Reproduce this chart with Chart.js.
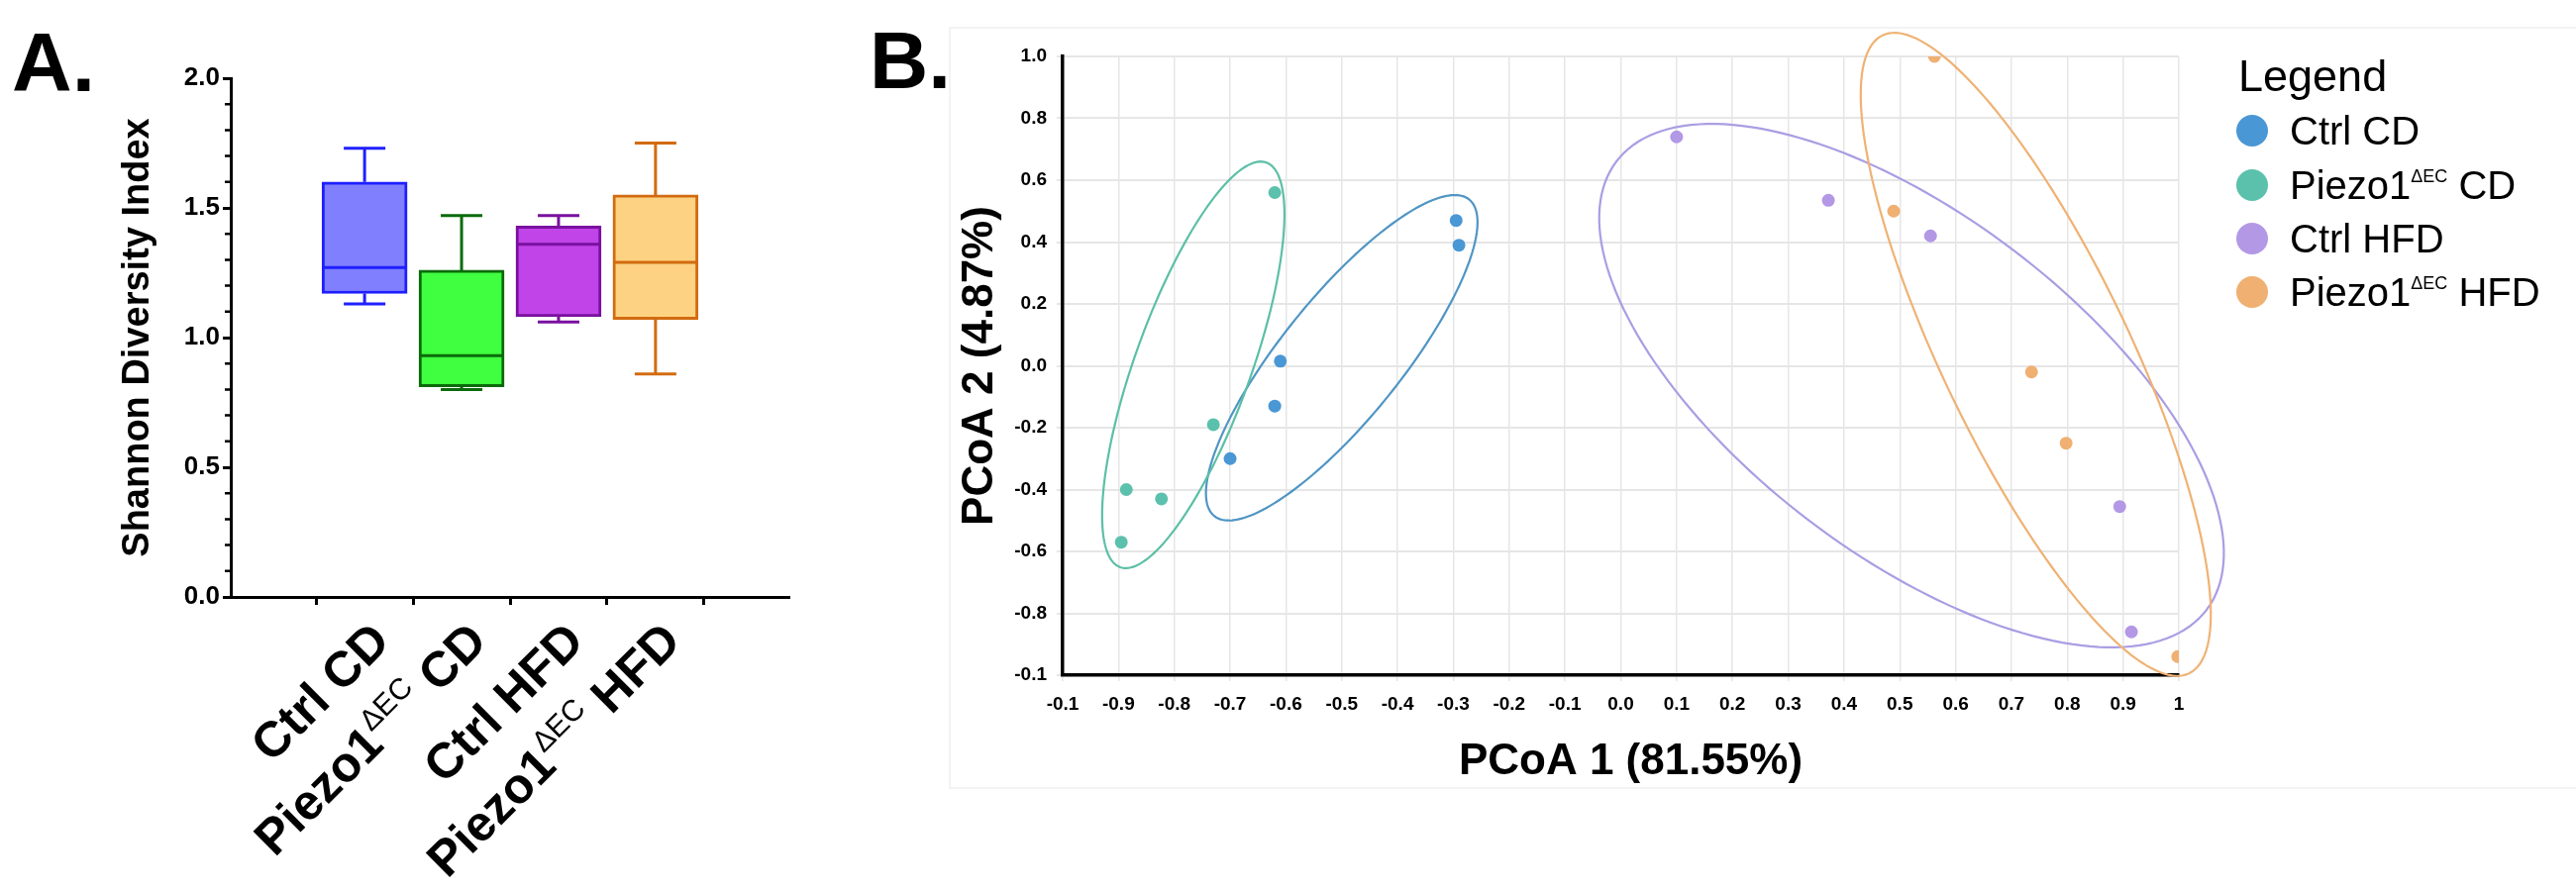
<!DOCTYPE html>
<html>
<head>
<meta charset="utf-8">
<script src="https://cdn.jsdelivr.net/npm/chart.js@4.4.1/dist/chart.umd.min.js"></script>
<style>
  html, body { margin: 0; padding: 0; background: #fff; }
  #wrap { position: relative; width: 2601px; height: 899px; overflow: hidden; }
  canvas { position: absolute; top: 0; }
  #boxA { left: 0; }
  #pcoa { left: 860px; }
</style>
</head>
<body>
<div id="wrap">
  <canvas id="boxA" width="860" height="899"></canvas>
  <canvas id="pcoa" width="1741" height="899"></canvas>
</div>
<script>
// ---- panel A: Shannon diversity boxes ----
const groups = ["Ctrl CD", "Piezo1ΔEC CD", "Ctrl HFD", "Piezo1ΔEC HFD"];
const boxMin = [1.13, 0.80, 1.06, 0.86];
const boxQ1 = [1.17, 0.81, 1.08, 1.07];
const boxMedian = [1.27, 0.93, 1.36, 1.29];
const boxQ3 = [1.60, 1.26, 1.43, 1.55];
const boxMax = [1.73, 1.47, 1.47, 1.75];
const minorTicksA = [0.1, 0.2, 0.3, 0.4, 0.6, 0.7, 0.8, 0.9, 1.1, 1.2, 1.3, 1.4, 1.6, 1.7, 1.8, 1.9];

// ---- panel B: PCoA points ----
const ctrlCdX = [-0.295, -0.29, -0.61, -0.62, -0.70];
const ctrlCdY = [0.47, 0.39, 0.015, -0.13, -0.30];
const piezoCdX = [-0.62, -0.73, -0.886, -0.823, -0.895];
const piezoCdY = [0.56, -0.19, -0.40, -0.43, -0.57];
const ctrlHfdX = [0.10, 0.372, 0.555, 0.894, 0.915];
const ctrlHfdY = [0.74, 0.535, 0.42, -0.455, -0.86];
const piezoHfdX = [0.562, 0.489, 0.736, 0.798, 0.998];
const piezoHfdY = [1.0, 0.50, -0.02, -0.25, -0.94];

// ellipses: centre x, centre y, major semi-axis (dx, dy), minor semi-axis (dx, dy) in data units
const ctrlCdEllipse = [-0.50, 0.026, 0.2284, 0.5115, 0.0839, -0.1224];
const piezoCdEllipse = [-0.766, 0.003, 0.131, 0.654, 0.0976, -0.0638];
const ctrlHfdEllipse = [0.521, -0.064, 0.5287, -0.7247, 0.1835, 0.4365];
const piezoHfdEllipse = [0.7436, 0.0369, 0.2747, -1.031, 0.1514, 0.1317];

const xTickLabels = ["-0.1", "-0.9", "-0.8", "-0.7", "-0.6", "-0.5", "-0.4", "-0.3", "-0.2", "-0.1",
  "0.0", "0.1", "0.2", "0.3", "0.4", "0.5", "0.6", "0.7", "0.8", "0.9", "1"];
const yTickLabels = ["-0.1", "-0.8", "-0.6", "-0.4", "-0.2", "0.0", "0.2", "0.4", "0.6", "0.8", "1.0"];

const FONT = '"Liberation Sans", Arial, Helvetica, sans-serif';
const boxFill = ["#8080ff", "#40ff40", "#c044e8", "#fdd383"];
const boxLine = ["#1f1fff", "#0b6b0b", "#7a10a0", "#d26b10"];
const groupColors = ["#4a97d5", "#5bc1ad", "#b398e6", "#efb072"];
const ellipseColors = ["#4f95c4", "#5cbfa6", "#ab9de3", "#efb274"];

// draws "Piezo1" + superscript "ΔEC" + rest
function richParts(label, bold, sup, rise) {
  const bits = label.split("ΔEC");
  if (bits.length === 1) return [[label, bold, 0]];
  return [[bits[0], bold, 0], ["ΔEC", sup, rise], [bits[1], bold, 0]];
}
function drawRich(ctx, parts, x, y, align) {
  let w = 0;
  parts.forEach(p => { ctx.font = p[1]; w += ctx.measureText(p[0]).width; });
  let cx = align === "right" ? x - w : x;
  ctx.textAlign = "left";
  parts.forEach(p => {
    ctx.font = p[1];
    ctx.fillText(p[0], cx, y - p[2]);
    cx += ctx.measureText(p[0]).width;
  });
}

const boxPlugin = {
  id: "boxExtras",
  afterDatasetsDraw(chart) {
    const { ctx, scales: { x, y } } = chart;
    ctx.save();
    ctx.lineCap = "butt";
    groups.forEach((g, i) => {
      const cx = x.getPixelForValue(i);
      ctx.strokeStyle = boxLine[i];
      ctx.lineWidth = 3;
      ctx.beginPath();
      ctx.moveTo(cx, y.getPixelForValue(boxQ3[i]));
      ctx.lineTo(cx, y.getPixelForValue(boxMax[i]));
      ctx.moveTo(cx - 21, y.getPixelForValue(boxMax[i]));
      ctx.lineTo(cx + 21, y.getPixelForValue(boxMax[i]));
      ctx.moveTo(cx, y.getPixelForValue(boxQ1[i]));
      ctx.lineTo(cx, y.getPixelForValue(boxMin[i]));
      ctx.moveTo(cx - 21, y.getPixelForValue(boxMin[i]));
      ctx.lineTo(cx + 21, y.getPixelForValue(boxMin[i]));
      ctx.moveTo(cx - 42, y.getPixelForValue(boxMedian[i]));
      ctx.lineTo(cx + 42, y.getPixelForValue(boxMedian[i]));
      ctx.stroke();
    });
    // minor ticks on y axis
    ctx.strokeStyle = "#000";
    ctx.lineWidth = 2.5;
    ctx.beginPath();
    minorTicksA.forEach(v => {
      const py = y.getPixelForValue(v);
      ctx.moveTo(x.left - 6, py);
      ctx.lineTo(x.left, py);
    });
    ctx.stroke();
    ctx.restore();
  },
  afterDraw(chart) {
    const { ctx, scales: { x, y } } = chart;
    ctx.save();
    ctx.fillStyle = "#000";
    ctx.textBaseline = "alphabetic";
    // panel letter
    ctx.font = "bold 84px " + FONT;
    ctx.textAlign = "left";
    ctx.fillText("A.", 12, 92);
    // y title
    ctx.save();
    ctx.translate(150, (y.top + y.bottom) / 2);
    ctx.rotate(-Math.PI / 2);
    ctx.font = "bold 38px " + FONT;
    ctx.textAlign = "center";
    ctx.fillText("Shannon Diversity Index", 0, 0);
    ctx.restore();
    // rotated category labels
    groups.forEach((g, i) => {
      const px = x.getPixelForValue(i);
      ctx.save();
      ctx.translate(px + 28, y.bottom + 47);
      ctx.rotate(-Math.PI / 4);
      drawRich(ctx, richParts(g, "bold 50px " + FONT, "30px " + FONT, 21), 0, 0, "right");
      ctx.restore();
    });
    ctx.restore();
  }
};

new Chart(document.getElementById("boxA"), {
  type: "bar",
  data: {
    datasets: [{
      data: groups.map((g, i) => ({ x: i, y: [boxQ1[i], boxQ3[i]] })),
      backgroundColor: boxFill,
      borderColor: boxLine,
      borderWidth: 3,
      borderSkipped: false,
      barThickness: 86
    }]
  },
  options: {
    responsive: false,
    animation: false,
    devicePixelRatio: 1,
    layout: { padding: { left: 0, top: 79, right: 63, bottom: 0 } },
    plugins: { legend: { display: false }, tooltip: { enabled: false } },
    scales: {
      x: {
        type: "linear",
        min: -0.66,
        max: 3.66,
        afterBuildTicks: s => { s.ticks = groups.map((g, i) => ({ value: i })); },
        afterFit: s => { s.height = 296; },
        grid: { display: true, drawOnChartArea: false, drawTicks: true, tickLength: 8, tickWidth: 3, tickColor: "#000" },
        border: { color: "#000", width: 3 },
        ticks: { display: false }
      },
      y: {
        min: 0,
        max: 2,
        afterFit: s => { s.width = 233; },
        ticks: {
          stepSize: 0.5,
          padding: 3,
          color: "#000",
          font: { family: FONT, size: 26, weight: "bold" },
          callback: v => v.toFixed(1)
        },
        grid: { display: true, drawOnChartArea: false, drawTicks: true, tickLength: 8, tickWidth: 3, tickColor: "#000" },
        border: { color: "#000", width: 3 }
      }
    }
  },
  plugins: [boxPlugin]
});

// ---- panel B ----
const ellipses = [ctrlCdEllipse, piezoCdEllipse, ctrlHfdEllipse, piezoHfdEllipse];

const pcoaPlugin = {
  id: "pcoaExtras",
  beforeDraw(chart) {
    const { ctx } = chart;
    ctx.save();
    ctx.strokeStyle = "#efefef";
    ctx.lineWidth = 1.5;
    ctx.strokeRect(99, 28, 1700, 768);
    ctx.restore();
  },
  afterDatasetsDraw(chart) {
    const { ctx, scales: { x, y } } = chart;
    ctx.save();
    ctx.lineWidth = 2.2;
    ellipses.forEach((e, k) => {
      ctx.strokeStyle = ellipseColors[k];
      ctx.beginPath();
      for (let s = 0; s <= 180; s++) {
        const t = s / 180 * Math.PI * 2;
        const dx = e[0] + e[2] * Math.cos(t) + e[4] * Math.sin(t);
        const dy = e[1] + e[3] * Math.cos(t) + e[5] * Math.sin(t);
        const px = x.getPixelForValue(dx), py = y.getPixelForValue(dy);
        if (s === 0) ctx.moveTo(px, py); else ctx.lineTo(px, py);
      }
      ctx.closePath();
      ctx.stroke();
    });
    ctx.restore();
  },
  afterDraw(chart) {
    const { ctx, scales: { x, y } } = chart;
    ctx.save();
    ctx.fillStyle = "#000";
    ctx.textBaseline = "alphabetic";
    ctx.font = "bold 82px " + FONT;
    ctx.textAlign = "left";
    ctx.fillText("B.", 18, 89);
    // axis titles
    ctx.font = "bold 44px " + FONT;
    ctx.textAlign = "center";
    ctx.fillText("PCoA 1 (81.55%)", (x.left + x.right) / 2 + 10, 782);
    ctx.save();
    ctx.translate(142, (y.top + y.bottom) / 2);
    ctx.rotate(-Math.PI / 2);
    ctx.fillText("PCoA 2 (4.87%)", 0, 0);
    ctx.restore();
    // legend
    ctx.textAlign = "left";
    ctx.font = "45px " + FONT;
    ctx.fillText("Legend", 1400, 92);
    const rows = [132, 187, 241, 295];
    chart.data.datasets.forEach((ds, k) => {
      ctx.fillStyle = groupColors[k];
      ctx.beginPath();
      ctx.arc(1414, rows[k], 16, 0, Math.PI * 2);
      ctx.fill();
      ctx.fillStyle = "#000";
      drawRich(ctx, richParts(ds.label, "40px " + FONT, "18px " + FONT, 17), 1452, rows[k] + 14, "left");
    });
    ctx.restore();
  }
};

function pts(xs, ys) { return xs.map((v, i) => ({ x: v, y: ys[i] })); }

new Chart(document.getElementById("pcoa"), {
  type: "scatter",
  data: {
    datasets: [
      { label: groups[0], data: pts(ctrlCdX, ctrlCdY), backgroundColor: groupColors[0] },
      { label: groups[1], data: pts(piezoCdX, piezoCdY), backgroundColor: groupColors[1] },
      { label: groups[2], data: pts(ctrlHfdX, ctrlHfdY), backgroundColor: groupColors[2] },
      { label: groups[3], data: pts(piezoHfdX, piezoHfdY), backgroundColor: groupColors[3] }
    ]
  },
  options: {
    responsive: false,
    animation: false,
    devicePixelRatio: 1,
    elements: { point: { radius: 6.5, borderWidth: 0 } },
    layout: { padding: { left: 0, top: 57, right: 401, bottom: 0 } },
    plugins: { legend: { display: false }, tooltip: { enabled: false } },
    scales: {
      x: {
        type: "linear",
        min: -1,
        max: 1,
        afterFit: s => { s.height = 217; },
        ticks: {
          stepSize: 0.1,
          autoSkip: false,
          maxRotation: 0,
          padding: 12,
          color: "#000",
          font: { family: FONT, size: 19, weight: "bold" },
          callback: (v, i) => xTickLabels[i]
        },
        grid: { color: "#e6e6e6", lineWidth: 1.5, tickLength: 6, tickColor: "#e6e6e6" },
        border: { color: "#000", width: 3.5 }
      },
      y: {
        min: -1,
        max: 1,
        afterFit: s => { s.width = 213; },
        ticks: {
          stepSize: 0.2,
          padding: 10,
          color: "#000",
          font: { family: FONT, size: 19, weight: "bold" },
          callback: (v, i) => yTickLabels[i]
        },
        grid: { color: "#e6e6e6", lineWidth: 2, tickLength: 6, tickColor: "#e6e6e6" },
        border: { color: "#000", width: 3.5 }
      }
    }
  },
  plugins: [pcoaPlugin]
});
</script>
</body>
</html>
